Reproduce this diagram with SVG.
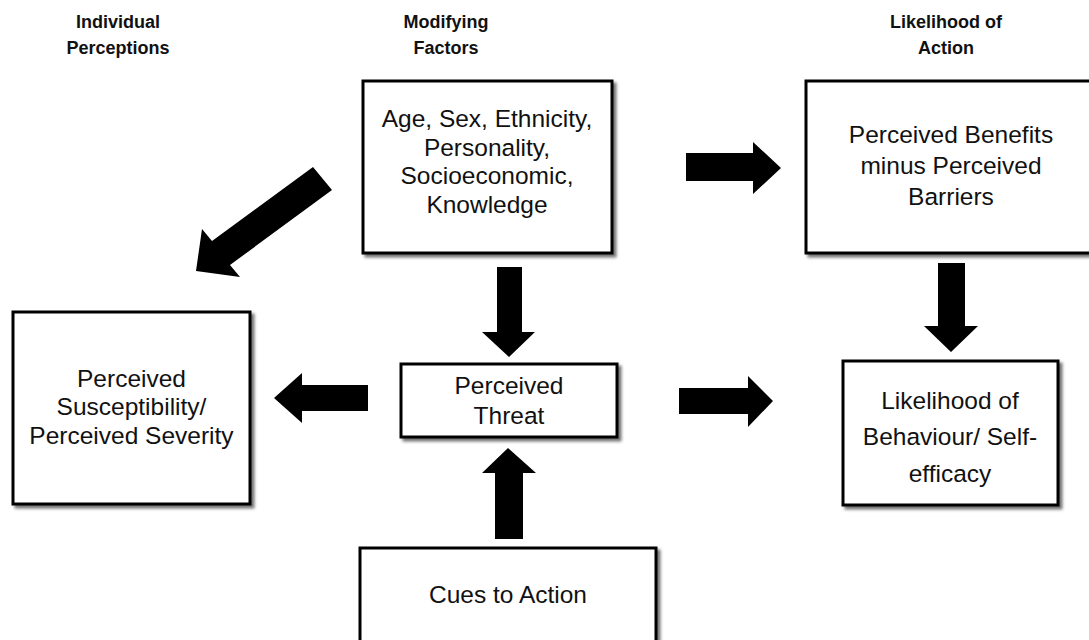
<svg xmlns="http://www.w3.org/2000/svg" width="1089" height="640" viewBox="0 0 1089 640">
<defs>
<filter id="sh" x="-10%" y="-10%" width="130%" height="130%">
<feDropShadow dx="3" dy="3" stdDeviation="1.5" flood-color="#000" flood-opacity="0.55"/>
</filter>
<style>
.box{fill:#fff;stroke:#000;stroke-width:3;filter:url(#sh)}
.t{font-family:"Liberation Sans",Arial,sans-serif;font-size:24.5px;fill:#111;text-anchor:middle}
.h{font-family:"Liberation Sans",Arial,sans-serif;font-size:18px;font-weight:bold;fill:#111;text-anchor:middle}
.arr{fill:#000}
</style>
</defs>
<rect width="1089" height="640" fill="#fff"/>
<g id="headers">
<text class="h" x="118" y="28">Individual</text>
<text class="h" x="118" y="54">Perceptions</text>
<text class="h" x="446" y="28">Modifying</text>
<text class="h" x="446" y="54">Factors</text>
<text class="h" x="946" y="28">Likelihood of</text>
<text class="h" x="946" y="54">Action</text>
</g>
<g id="modifying">
<rect class="box" x="363" y="81" width="249" height="172"/>
<text class="t" x="487" y="127">Age, Sex, Ethnicity,</text>
<text class="t" x="487" y="155.5">Personality,</text>
<text class="t" x="487" y="184">Socioeconomic,</text>
<text class="t" x="487" y="212.5">Knowledge</text>
</g>
<g id="benefits">
<rect class="box" x="806" y="81" width="292" height="172"/>
<text class="t" x="951" y="143">Perceived Benefits</text>
<text class="t" x="951" y="174">minus Perceived</text>
<text class="t" x="951" y="205">Barriers</text>
</g>
<g id="susceptibility">
<rect class="box" x="13" y="312" width="237" height="192"/>
<text class="t" x="131.5" y="386.5">Perceived</text>
<text class="t" x="131.5" y="415">Susceptibility/</text>
<text class="t" x="131.5" y="443.5">Perceived Severity</text>
</g>
<g id="threat">
<rect class="box" x="401" y="364" width="216" height="73"/>
<text class="t" x="509" y="394">Perceived</text>
<text class="t" x="509" y="424">Threat</text>
</g>
<g id="likelihood">
<rect class="box" x="843" y="361" width="215" height="144"/>
<text class="t" x="950" y="409">Likelihood of</text>
<text class="t" x="950" y="445">Behaviour/ Self-</text>
<text class="t" x="950" y="482">efficacy</text>
</g>
<g id="cues">
<rect class="box" x="360" y="548" width="296" height="100"/>
<text class="t" x="508" y="603">Cues to Action</text>
</g>
<g id="connectors">
<polygon class="arr" points="686,153 753,153 753,142 781,168 753,194 753,181 686,181"/>
<polygon class="arr" points="679,388 748,388 748,376 773,401 748,427 748,414 679,414"/>
<polygon class="arr" points="368,385 302,385 302,373 274,398 302,423 302,411 368,411"/>
<polygon class="arr" points="497,267 522,267 522,332 535,332 509,357 482,332 497,332"/>
<polygon class="arr" points="938,263 965,263 965,326 978,326 951,352 924,326 938,326"/>
<polygon class="arr" points="495,539 523,539 523,473 536,473 508,448 482,473 495,473"/>
<polygon class="arr" points="332,190 230,265 240,277 196,271 202,229 212,241 313,167"/>
</g>
</svg>
